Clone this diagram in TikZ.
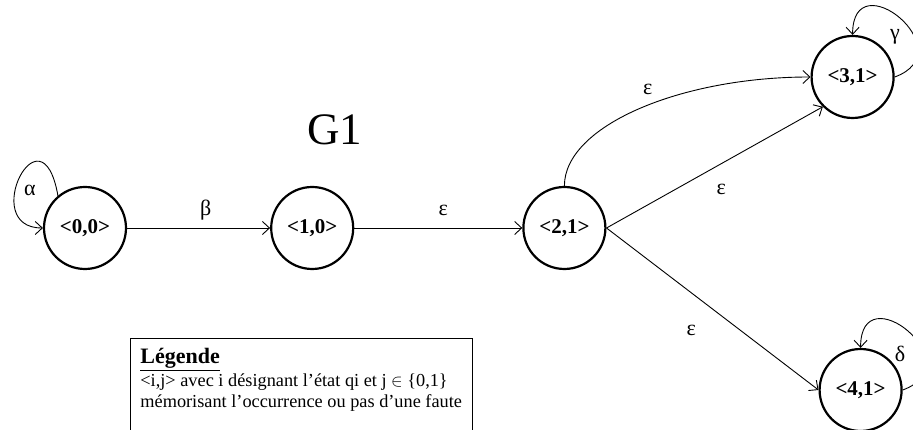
\documentclass[tikz,border=0pt]{standalone}
\usepackage{fontspec}
\setmainfont{Liberation Serif}
\usepackage{tikz}
\usetikzlibrary{arrows.meta, positioning}

\begin{document}
\begin{tikzpicture}[
   x=1pt, y=1pt,
   etat/.style={draw, circle, line width=2.2pt, minimum size=82pt, inner sep=0pt,
                font=\fontsize{21}{24}\selectfont\bfseries},
   lbl/.style={font=\fontsize{22}{24}\selectfont, inner sep=1pt},
   legende/.style={draw, line width=0.8pt, anchor=north west, align=left,
                   inner xsep=10pt, inner ysep=10pt,
                   font=\fontsize{18.3}{21.5}\selectfont},
   arr/.style={-{Straight Barb[length=7pt, width=13pt]}, line width=0.9pt}]

  \useasboundingbox (0,0) rectangle (913,430);

  \node[etat] (n00) at (85,202) {<0,0>};
  \node[etat, right=143pt of n00] (n10) {<1,0>};
  \node[etat, right=168pt of n10] (n21) {<2,1>};
  \node[etat, right=204pt of n21, yshift=151pt] (n31) {<3,1>};
  \node[etat, right=212pt of n21, yshift=-162pt] (n41) {<4,1>};

  \node[font=\fontsize{45}{50}\selectfont] (titre) at (335,300) {G1};

  \node[legende] (leg) at (130,92) {{\fontsize{22}{21.5}\selectfont\underline{\textbf{Légende}}}\\[1pt]
    <i,j> avec i désignant l’état qi et j $\in$ \{0,1\}\\
    mémorisant l’occurrence ou pas d’une faute\\ ~};

  \draw[arr] (n00.130) to[out=100, in=180, out distance=95pt, in distance=65pt]
    node[lbl, pos=0.5, xshift=10pt, yshift=-14pt] {α} (n00.west);
  \draw[arr] (n00) -- node[lbl, pos=0.55, yshift=18pt] {β} (n10);
  \draw[arr] (n10) -- node[lbl, pos=0.53, yshift=18pt] {ε} (n21);
  \draw[arr] (n21.north) to[out=90, in=180, out distance=60pt, in distance=130pt]
    node[lbl, pos=0.5, xshift=9pt, yshift=20pt] {ε} (n31.west);
  \draw[arr] (n21.east) -- node[lbl, pos=0.53, yshift=-26pt] {ε} (n31.south west);
  \draw[arr] (n21.east) -- node[lbl, pos=0.4, yshift=-38pt] {ε} (n41.west);
  \draw[arr] (n31.east) to[out=20, in=90, distance=75pt]
    node[lbl, pos=0.5, xshift=-5pt, yshift=-19pt] {γ} (n31.north);
  \draw[arr] (n41.east) to[out=20, in=90, distance=75pt]
    node[lbl, pos=0.5, xshift=-8pt, yshift=-23pt] {δ} (n41.north);
\end{tikzpicture}
\end{document}
